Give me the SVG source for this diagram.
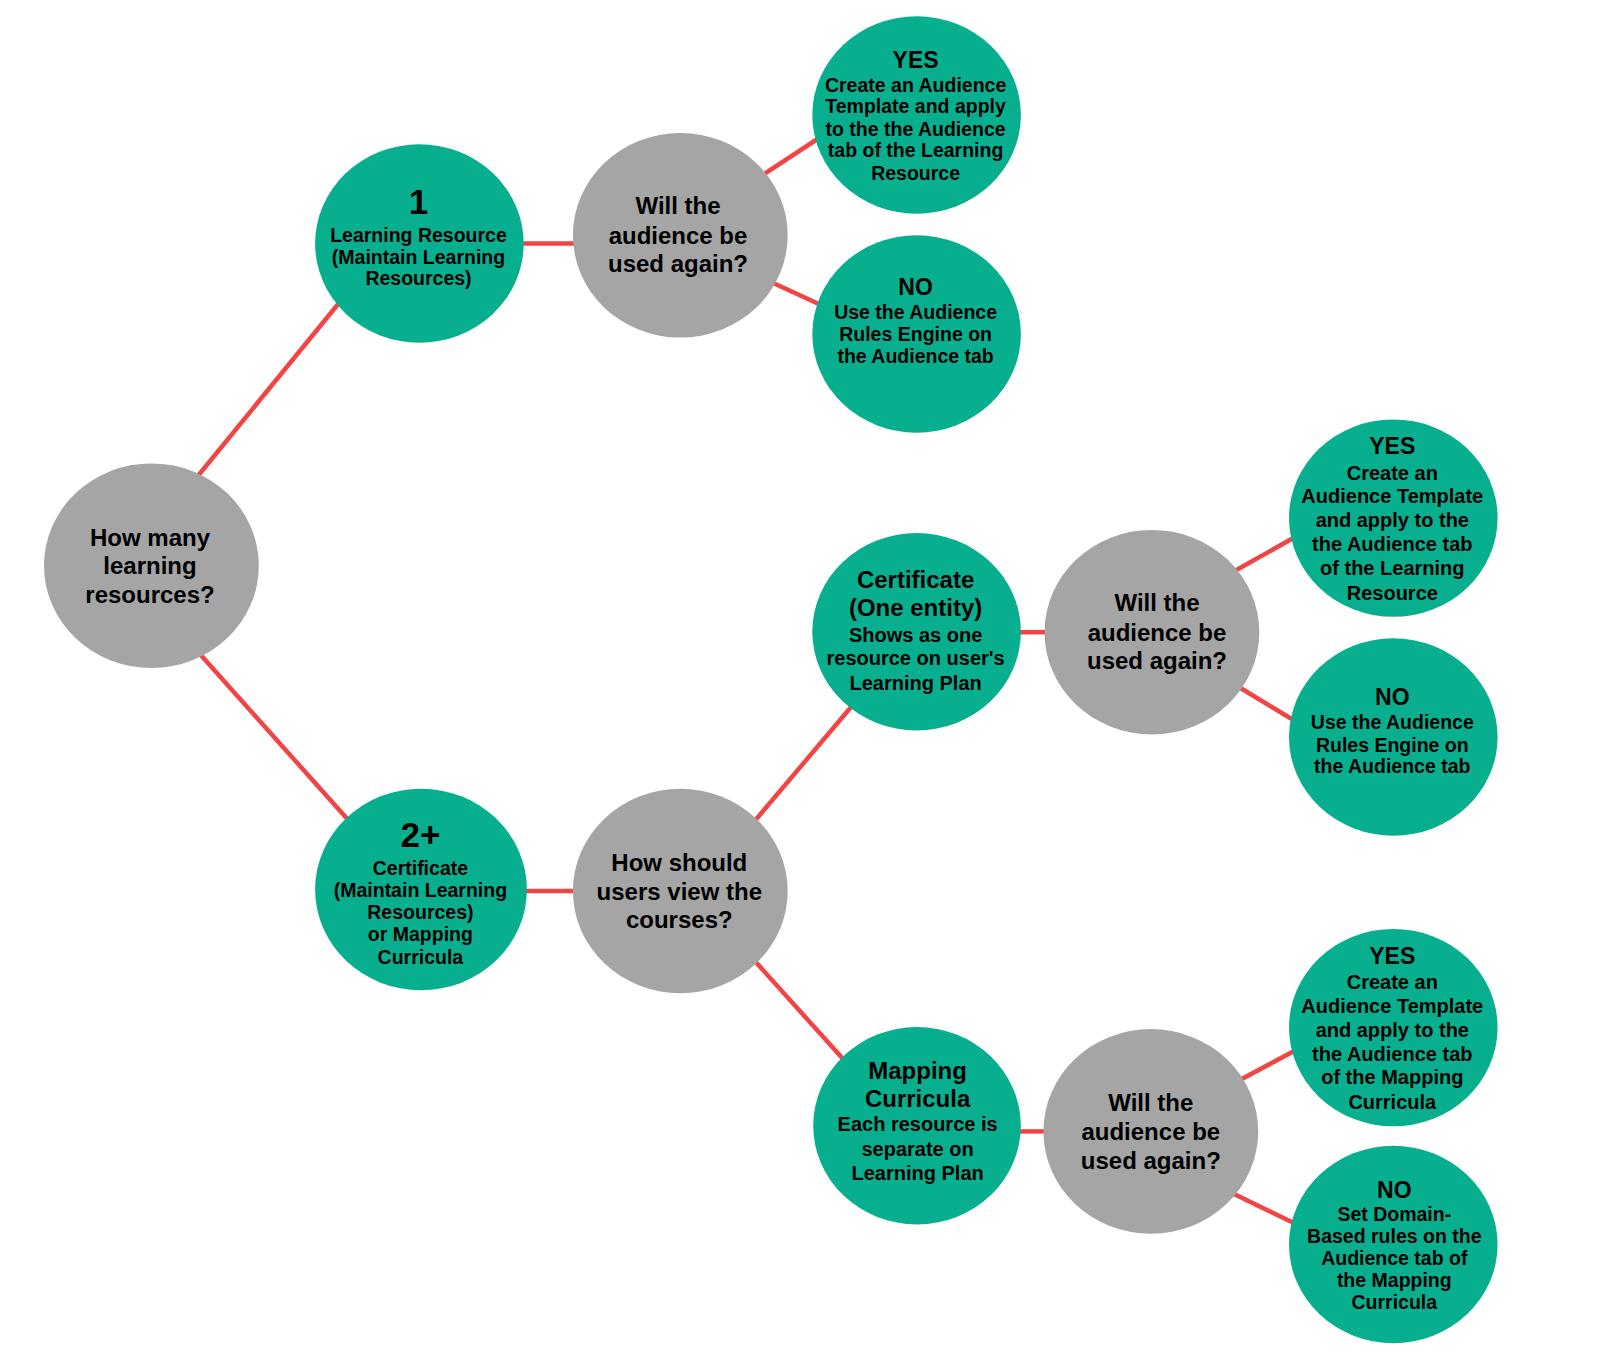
<svg xmlns="http://www.w3.org/2000/svg" width="1604" height="1370" viewBox="0 0 1604 1370">
<style>
.g{fill:#A5A5A5}
.t{fill:#08AF8F}
.c line{stroke:#F34444;stroke-width:4.5;stroke-linecap:butt}
text{font-family:"Liberation Sans",Arial,sans-serif;font-weight:bold;fill:#000;text-anchor:middle}
.q{font-size:24px}
.s{font-size:19.5px}
.m{font-size:20px}
.h{font-size:23px}
.big{font-size:35px}
</style>
<rect width="1604" height="1370" fill="#fff"/>
<g class="c" id="connectors">
<line x1="195" y1="479.5" x2="339" y2="303"/>
<line x1="199" y1="653" x2="350" y2="822"/>
<line x1="520" y1="243.5" x2="576" y2="243.5"/>
<line x1="761" y1="176" x2="819" y2="138"/>
<line x1="771" y1="282" x2="822" y2="305.5"/>
<line x1="523" y1="891" x2="576" y2="891"/>
<line x1="753" y1="823" x2="854" y2="703.5"/>
<line x1="753" y1="959" x2="844" y2="1060"/>
<line x1="1017" y1="632.2" x2="1048" y2="632.2"/>
<line x1="1232" y1="572.5" x2="1296" y2="536.5"/>
<line x1="1238" y1="686.5" x2="1295" y2="721"/>
<line x1="1017" y1="1131.4" x2="1047" y2="1131.4"/>
<line x1="1238" y1="1081" x2="1296" y2="1050"/>
<line x1="1233" y1="1193.5" x2="1296" y2="1224"/>
</g>
<g id="root">
<ellipse class="g" cx="151.4" cy="565.7" rx="107.4" ry="102.3"/>
<text class="q" x="150" y="545.6">How many</text>
<text class="q" x="150" y="574.2">learning</text>
<text class="q" x="150" y="602.9">resources?</text>
</g>
<g id="n1">
<ellipse class="t" cx="419.4" cy="243.5" rx="104.3" ry="99.2"/>
<text class="big" x="418.5" y="214">1</text>
<text class="s" x="418.5" y="242.3">Learning Resource</text>
<text class="s" x="418.5" y="263.8">(Maintain Learning</text>
<text class="s" x="418.5" y="285.3">Resources)</text>
</g>
<g id="q1">
<ellipse class="g" cx="680.3" cy="235.3" rx="107.4" ry="102.3"/>
<text class="q" x="678" y="214.1">Will the</text>
<text class="q" x="678" y="243.8">audience be</text>
<text class="q" x="678" y="272.4">used again?</text>
</g>
<g id="yes1">
<ellipse class="t" cx="916.6" cy="115" rx="104.3" ry="98.7"/>
<text class="h" x="915.6" y="67.5">YES</text>
<text class="s" x="915.6" y="91.7">Create an Audience</text>
<text class="s" x="915.6" y="113.2">Template and apply</text>
<text class="s" x="915.6" y="135.7">to the the Audience</text>
<text class="s" x="915.6" y="157.2">tab of the Learning</text>
<text class="s" x="915.6" y="179.7">Resource</text>
</g>
<g id="no1">
<ellipse class="t" cx="916.6" cy="334" rx="104.3" ry="98.7"/>
<text class="h" x="915.6" y="294.6">NO</text>
<text class="s" x="915.6" y="318.8">Use the Audience</text>
<text class="s" x="915.6" y="341.3">Rules Engine on</text>
<text class="s" x="915.6" y="362.8">the Audience tab</text>
</g>
<g id="n2">
<ellipse class="t" cx="421" cy="889.5" rx="105.9" ry="100.8"/>
<text class="big" x="420.4" y="847.2">2+</text>
<text class="s" x="420.4" y="874.5">Certificate</text>
<text class="s" x="420.4" y="897">(Maintain Learning</text>
<text class="s" x="420.4" y="918.5">Resources)</text>
<text class="s" x="420.4" y="941">or Mapping</text>
<text class="s" x="420.4" y="963.5">Curricula</text>
</g>
<g id="q2">
<ellipse class="g" cx="680.3" cy="891" rx="107.4" ry="102.3"/>
<text class="q" x="679.3" y="870.9">How should</text>
<text class="q" x="679.3" y="899.5">users view the</text>
<text class="q" x="679.3" y="928.2">courses?</text>
</g>
<g id="cert">
<ellipse class="t" cx="916.6" cy="631.7" rx="104.3" ry="98.7"/>
<text class="q" x="915.6" y="587.5">Certificate</text>
<text class="q" x="915.6" y="616.2">(One entity)</text>
<text class="m" x="915.6" y="641.5">Shows as one</text>
<text class="m" x="915.6" y="665">resource on user's</text>
<text class="m" x="915.6" y="689.5">Learning Plan</text>
</g>
<g id="q3">
<ellipse class="g" cx="1151.9" cy="632.2" rx="107.4" ry="102.3"/>
<text class="q" x="1157" y="611">Will the</text>
<text class="q" x="1157" y="640.7">audience be</text>
<text class="q" x="1157" y="669.3">used again?</text>
</g>
<g id="yes2">
<ellipse class="t" cx="1393.3" cy="518.1" rx="104.3" ry="98.7"/>
<text class="h" x="1392.3" y="454.2">YES</text>
<text class="m" x="1392.3" y="479.8">Create an</text>
<text class="m" x="1392.3" y="503.3">Audience Template</text>
<text class="m" x="1392.3" y="526.9">and apply to the</text>
<text class="m" x="1392.3" y="551.4">the Audience tab</text>
<text class="m" x="1392.3" y="574.9">of the Learning</text>
<text class="m" x="1392.3" y="599.5">Resource</text>
</g>
<g id="no2">
<ellipse class="t" cx="1393.3" cy="737" rx="104.3" ry="98.7"/>
<text class="h" x="1392.3" y="704.8">NO</text>
<text class="s" x="1392.3" y="729">Use the Audience</text>
<text class="s" x="1392.3" y="751.5">Rules Engine on</text>
<text class="s" x="1392.3" y="773">the Audience tab</text>
</g>
<g id="map">
<ellipse class="t" cx="917" cy="1125.8" rx="103.8" ry="98.7"/>
<text class="q" x="917.6" y="1078.5">Mapping</text>
<text class="q" x="917.6" y="1107.2">Curricula</text>
<text class="m" x="917.6" y="1131.4">Each resource is</text>
<text class="m" x="917.6" y="1156">separate on</text>
<text class="m" x="917.6" y="1179.5">Learning Plan</text>
</g>
<g id="q4">
<ellipse class="g" cx="1150.8" cy="1131.4" rx="107.4" ry="102.3"/>
<text class="q" x="1150.8" y="1111.3">Will the</text>
<text class="q" x="1150.8" y="1139.9">audience be</text>
<text class="q" x="1150.8" y="1168.5">used again?</text>
</g>
<g id="yes3">
<ellipse class="t" cx="1393.3" cy="1027.6" rx="104.3" ry="98.7"/>
<text class="h" x="1392.3" y="963.7">YES</text>
<text class="m" x="1392.3" y="989.3">Create an</text>
<text class="m" x="1392.3" y="1012.8">Audience Template</text>
<text class="m" x="1392.3" y="1037.4">and apply to the</text>
<text class="m" x="1392.3" y="1060.9">the Audience tab</text>
<text class="m" x="1392.3" y="1084.4">of the Mapping</text>
<text class="m" x="1392.3" y="1108.9">Curricula</text>
</g>
<g id="no3">
<ellipse class="t" cx="1393.3" cy="1244.5" rx="104.3" ry="98.7"/>
<text class="h" x="1394.3" y="1197.9">NO</text>
<text class="s" x="1394.3" y="1221.1">Set Domain-</text>
<text class="s" x="1394.3" y="1242.6">Based rules on the</text>
<text class="s" x="1394.3" y="1265.1">Audience tab of</text>
<text class="s" x="1394.3" y="1286.6">the Mapping</text>
<text class="s" x="1394.3" y="1309.1">Curricula</text>
</g>
</svg>
